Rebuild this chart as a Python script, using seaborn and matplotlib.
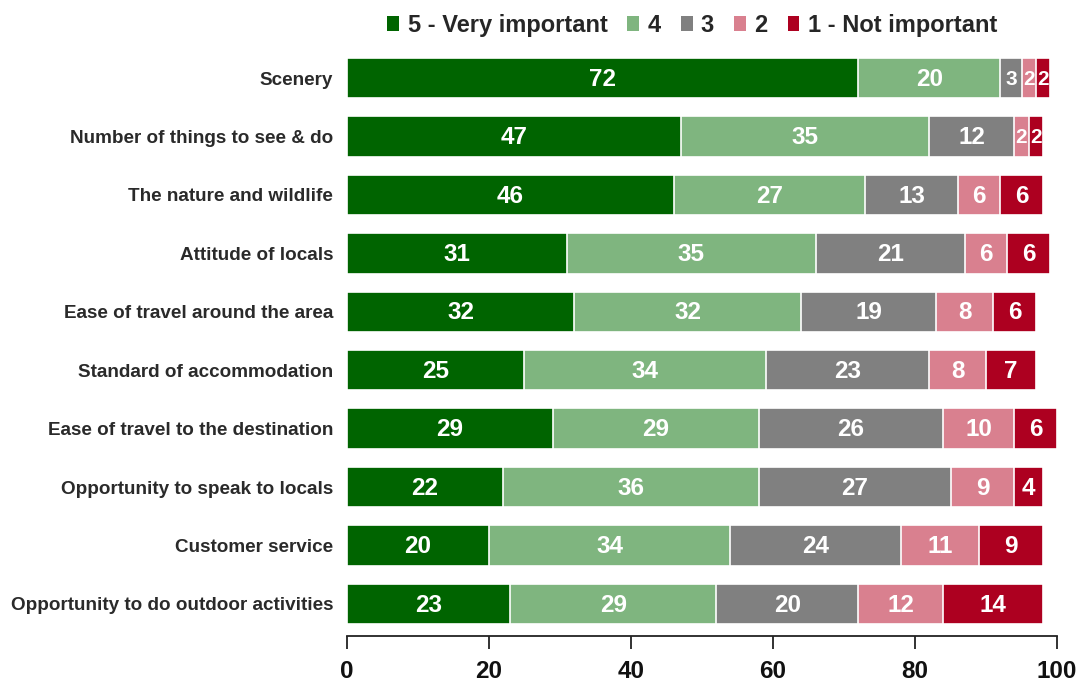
import matplotlib
matplotlib.use("Agg")
import matplotlib.pyplot as plt
from matplotlib.patches import Patch
import numpy as np
import pandas as pd
import seaborn as sns

categories = [
    "Scenery",
    "Number of things to see & do",
    "The nature and wildlife",
    "Attitude of locals",
    "Ease of travel around the area",
    "Standard of accommodation",
    "Ease of travel to the destination",
    "Opportunity to speak to locals",
    "Customer service",
    "Opportunity to do outdoor activities",
]
very_important = [72, 47, 46, 31, 32, 25, 29, 22, 20, 23]
score_4 = [20, 35, 27, 35, 32, 34, 29, 36, 34, 29]
score_3 = [3, 12, 13, 21, 19, 23, 26, 27, 24, 20]
score_2 = [2, 2, 6, 6, 8, 8, 10, 9, 11, 12]
not_important = [2, 2, 6, 6, 6, 7, 6, 4, 9, 14]

series_names = ["5 - Very important", "4", "3", "2", "1 - Not important"]
series_values = [very_important, score_4, score_3, score_2, not_important]
colors = ["#006400", "#7fb57f", "#808080", "#d9808f", "#ad0020"]
x_ticks = [0, 20, 40, 60, 80, 100]

sns.set_theme(style="white")
plt.rcParams["font.family"] = ["Liberation Sans", "DejaVu Sans"]

fig = plt.figure(figsize=(10.85, 6.84), dpi=100)
ax = fig.add_axes([0.3198, 0.0702, 0.6544, 0.8582])

df = pd.DataFrame({"category": categories})
cum = np.zeros(len(categories))
cums = []
for vals in series_values:
    cum = cum + np.array(vals)
    cums.append(cum.copy())

# Stacked bars: draw the running totals from longest to shortest so each segment shows
for i in reversed(range(len(series_values))):
    df["total"] = cums[i]
    sns.barplot(data=df, x="total", y="category", orient="h", color=colors[i],
                saturation=1, width=0.69, edgecolor="white", linewidth=1.2, ax=ax)

for i, vals in enumerate(series_values):
    starts = cums[i] - np.array(vals)
    for j, v in enumerate(vals):
        fs = 17.5 if v >= 4 else 15
        ax.text(starts[j] + v / 2, j + 0.02, str(v), ha="center", va="center",
                color="white", fontsize=fs, fontweight="bold")

ax.set_xlim(0, 100)
ax.set_ylim(9.55, -0.5)
ax.set_xticks(x_ticks)
ax.set_xticklabels([str(t) for t in x_ticks], fontsize=17.5, fontweight="bold", color="#111111")
ax.set_xlabel("")
ax.set_ylabel("")
ax.tick_params(axis="x", direction="out", length=9, width=1.3, color="#222222", pad=8, bottom=True)
ax.tick_params(axis="y", length=0, pad=10)
for lbl in ax.get_yticklabels():
    lbl.set_fontsize(13.6)
    lbl.set_fontweight("bold")
    lbl.set_color("#2a2a2a")
for s in ["top", "right", "left"]:
    ax.spines[s].set_visible(False)
ax.spines["bottom"].set_color("#222222")
ax.spines["bottom"].set_linewidth(1.3)

handles = [Patch(facecolor=c, edgecolor="none") for c in colors]
fig.legend(handles, series_names, loc="center", bbox_to_anchor=(0.638, 0.963), ncol=5,
           frameon=False, handlelength=0.5, handleheight=0.65, handletextpad=0.35,
           columnspacing=0.85, prop={"size": 17, "weight": "bold"})

fig.savefig("out.png", dpi=100)
